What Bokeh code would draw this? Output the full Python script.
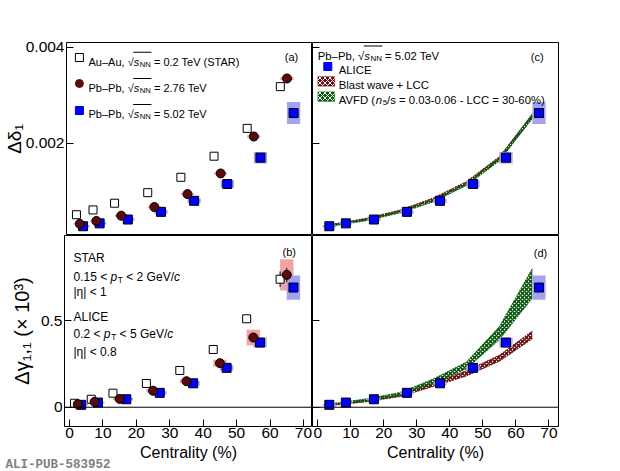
import math
from bokeh.plotting import figure
from bokeh.layouts import column, row
from bokeh.models import (Label, BoxAnnotation, Span, FixedTicker, Range1d, Title,
                          CustomJSTickFormatter)
from bokeh.embed import file_html
from bokeh.resources import INLINE

# centrality (%) of the points, each data set shifted a little as in the figure
cent_star = [1.5, 6.5, 13, 23, 33, 43, 53, 63]
cent_276 = [2.5, 7.5, 15, 25, 35, 45, 55, 65]
cent_502 = [3.5, 8.5, 17, 27, 37, 47, 57, 67]

# delta delta_1
dd_star = [0.00051, 0.00061, 0.00075, 0.00097, 0.00129, 0.00173, 0.00231, 0.00318]
dd_276 = [0.00032, 0.00038, 0.00049, 0.00067, 0.00094, 0.00137, 0.00214, 0.00335]
dd_276_sys = [0.000012, 0.000012, 0.000015, 0.000015, 0.00002, 0.00002, 0.000025, 0.00003]
dd_502 = [0.00027, 0.00033, 0.00041, 0.00057, 0.00080, 0.00115, 0.00170, 0.00263]
dd_502_sys = [0.00002, 0.000025, 0.00003, 0.00004, 0.00005, 0.00008, 0.00012, 0.00023]

# delta gamma_11 (x 10^3)
dg_star = [0.023, 0.046, 0.081, 0.137, 0.212, 0.333, 0.51, 0.738]
dg_star_stat = [0.003, 0.004, 0.005, 0.006, 0.008, 0.01, 0.015, 0.045]
dg_276 = [0.017, 0.031, 0.048, 0.095, 0.15, 0.254, 0.402, 0.763]
dg_276_stat = [0.003, 0.004, 0.005, 0.006, 0.008, 0.01, 0.015, 0.04]
dg_276_sys = [0.004, 0.006, 0.008, 0.01, 0.012, 0.02, 0.045, 0.09]
dg_502 = [0.014, 0.027, 0.046, 0.083, 0.138, 0.227, 0.373, 0.69]
dg_502_sys = [0.004, 0.005, 0.007, 0.009, 0.012, 0.015, 0.028, 0.07]

# model bands
cent_model = [2.5, 7.5, 15, 25, 35, 45, 55, 65]
bw_dd_lo = [0.00026, 0.00032, 0.00040, 0.00057, 0.00082, 0.00115, 0.00166, 0.00252]
bw_dd_hi = [0.00029, 0.00035, 0.00044, 0.00061, 0.00086, 0.00120, 0.00172, 0.00260]
avfd_dd_lo = [0.00025, 0.00031, 0.00039, 0.00055, 0.00078, 0.00112, 0.00163, 0.00252]
avfd_dd_hi = [0.00028, 0.00034, 0.00042, 0.00059, 0.00082, 0.00117, 0.00170, 0.00262]
bw_dg_lo = [0.008, 0.017, 0.032, 0.062, 0.12, 0.18, 0.265, 0.395]
bw_dg_hi = [0.013, 0.023, 0.040, 0.073, 0.143, 0.21, 0.30, 0.44]
avfd_dg_lo = [0.010, 0.020, 0.036, 0.068, 0.137, 0.222, 0.39, 0.63]
avfd_dg_hi = [0.017, 0.029, 0.049, 0.085, 0.163, 0.26, 0.465, 0.80]

x_ticks = [0, 10, 20, 30, 40, 50, 60, 70]
dd_ticks = [0.002, 0.004]
dg_ticks = [0, 0.5]

FONT = "Liberation Sans"
BLUE = "#0000ff"
BLUE_SYS = "#a3a3f2"
RED = "#5a0a0a"
RED_SYS = "#f4a3a3"
BW = "#6b1010"
AVFD = "#0b5a0f"

# Arial / Liberation Sans advance widths (em), for placing text pieces
W = {" ": .278, ".": .278, ",": .278, "–": .556, "-": .333, "=": .584, "<": .584,
     "(": .333, ")": .333, "/": .278, "%": .889, "√": .549,
     "A": .667, "C": .722, "D": .722, "F": .611, "G": .778, "N": .722, "P": .667,
     "R": .722, "S": .667, "T": .611, "V": .667,
     "b": .556, "c": .5, "e": .556, "n": .556, "p": .556, "s": .5, "u": .556}


def width(txt, fs):
    return sum(W.get(ch, .556) for ch in txt) * fs


def label(p, x, y, txt, fs, style="normal", align="left"):
    p.add_layout(Label(x=x, y=y, x_units="screen", y_units="screen", text=txt,
                       text_font=FONT, text_font_size=f"{fs}px", text_font_style=style,
                       text_align=align, text_baseline="alphabetic", text_color="black"))


def rich(p, x, y, parts, size):
    spans = []
    for txt, kind in parts:
        fs = round(size * 0.7, 1) if kind == "sub" else size
        x += (len(txt) - len(txt.lstrip())) * W[" "] * fs
        txt = txt.lstrip()
        dy = -0.28 * size if kind == "sub" else 0
        label(p, x, y + dy, txt, fs, "italic" if kind == "i" else "normal")
        spans.append((x, x + width(txt, fs)))
        x += width(txt, fs) + (0.6 if kind == "i" else 0)
    return spans


def sqrt_s(p, x, y, before, after, size):
    sp = rich(p, x, y, [(before, "n"), ("s", "i"), ("NN", "sub"), (after, "n")], size)
    p.add_layout(BoxAnnotation(left=sp[1][0] - 0.5, right=sp[2][1] + 0.5,
                               bottom=y + 0.8 * size, top=y + 0.8 * size + 0.9,
                               left_units="screen", right_units="screen",
                               bottom_units="screen", top_units="screen",
                               fill_color="black", fill_alpha=1, line_color=None))


def frame_to_data(p, rx, ry, fw, fh):
    xr, yr = p.x_range, p.y_range
    return (xr.start + rx / fw * (xr.end - xr.start),
            yr.start + ry / fh * (yr.end - yr.start))


def panel(xr, yr, w, h, left, right, top, bottom, yticks, xlabels, ylabels):
    p = figure(width=w, height=h, x_range=Range1d(*xr), y_range=Range1d(*yr),
               output_backend="svg", toolbar_location=None,
               min_border_left=left, min_border_right=right,
               min_border_top=top, min_border_bottom=bottom)
    p.xgrid.visible = False
    p.ygrid.visible = False
    p.outline_line_color = "black"
    p.outline_line_alpha = 1
    for ax in (p.xaxis, p.yaxis):
        ax.axis_line_color = None
        ax.major_tick_in = 7
        ax.major_tick_out = 0
        ax.minor_tick_line_color = None
        ax.major_tick_line_color = "black"
        ax.major_label_text_font = FONT
        ax.major_label_text_font_size = "15.5px"
        ax.major_label_text_color = "black"
        ax.axis_label_text_font = FONT
        ax.axis_label_text_font_style = "normal"
        ax.axis_label_text_color = "black"
    p.xaxis.ticker = FixedTicker(ticks=x_ticks)
    p.xaxis.major_label_standoff = 1
    p.yaxis.ticker = FixedTicker(ticks=yticks)
    p.yaxis.major_label_standoff = 2
    if xlabels:
        p.xaxis.axis_label = "Centrality (%)"
        p.xaxis.axis_label_text_font_size = "16px"
        p.xaxis.axis_label_standoff = 3
    else:
        p.xaxis.visible = False
    if not ylabels:
        p.yaxis.formatter = CustomJSTickFormatter(code="return ''")
        p.yaxis.major_label_standoff = 0
    return p


XL = (-1.5, 72.7)
XR = (-1.6, 72.9)
YT = (0.000077, 0.0041)
YB = (-0.111, 0.99)
FWL, FWR, FHT, FHB = 248, 246, 193, 191

pa = panel(XL, YT, 312, 235, 64, 0, 42, 0, dd_ticks, False, True)
pc = panel(XR, YT, 286, 235, 0, 40, 42, 0, dd_ticks, False, False)
pb = panel(XL, YB, 312, 236, 64, 0, 0, 45, dg_ticks, True, True)
pd = panel(XR, YB, 286, 236, 0, 40, 0, 45, dg_ticks, True, False)
pb.yaxis.major_label_overrides = {0: "0", 0.5: "0.5"}

pa.yaxis.axis_label = "Δδ₁"
pa.yaxis.axis_label_text_font_size = "19px"
pa.yaxis.axis_label_standoff = -2
pb.yaxis.axis_label = "Δγ₁,₁ (× 10³)"
pb.yaxis.axis_label_text_font_size = "20px"
pb.yaxis.axis_label_standoff = 5

pb.add_layout(Title(text="ALI-PUB-583952", align="left", offset=-59, standoff=-16,
                    text_font="Liberation Mono", text_font_size="12.5px",
                    text_font_style="bold", text_color="#808080"), "below")

for p in (pb, pd):
    p.add_layout(Span(location=0, dimension="width", line_color="black", line_width=1))


def band(p, lo, hi, color):
    p.varea(x=cent_model, y1=lo, y2=hi, fill_color="white", fill_alpha=0,
            hatch_pattern="diagonal_cross", hatch_color=color, hatch_scale=4,
            hatch_weight=1.7)
    p.line(cent_model, lo, line_color=color, line_dash="2 1", line_width=1)
    p.line(cent_model, hi, line_color=color, line_dash="2 1", line_width=1)


def alice(p, y, sys):
    p.rect(x=cent_502, y=y, width=4, height=[2 * s for s in sys], fill_color=BLUE_SYS,
           line_color=None)
    p.scatter(cent_502, y, marker="square", size=9, fill_color=BLUE, line_color="black")


# (a)
pa.rect(x=cent_276, y=dd_276, width=4, height=[2 * s for s in dd_276_sys],
        fill_color=RED_SYS, line_color=None)
alice(pa, dd_502, dd_502_sys)
pa.scatter(cent_star, dd_star, marker="square", size=8, fill_color="white",
           line_color="black")
pa.scatter(cent_276, dd_276, marker="circle", size=9, fill_color=RED, line_color="black")

# (b)
pb.rect(x=cent_276, y=dg_276, width=4, height=[2 * s for s in dg_276_sys],
        fill_color=RED_SYS, line_color=None)
alice(pb, dg_502, dg_502_sys)
pb.segment(x0=cent_star, y0=[v - e for v, e in zip(dg_star, dg_star_stat)],
           x1=cent_star, y1=[v + e for v, e in zip(dg_star, dg_star_stat)], line_color="black")
pb.scatter(cent_star, dg_star, marker="square", size=8, fill_color="white",
           line_color="black")
pb.segment(x0=cent_276, y0=[v - e for v, e in zip(dg_276, dg_276_stat)],
           x1=cent_276, y1=[v + e for v, e in zip(dg_276, dg_276_stat)], line_color="black")
pb.scatter(cent_276, dg_276, marker="circle", size=9, fill_color=RED, line_color="black")

# (c) and (d)
for p, blo, bhi, alo, ahi in ((pc, bw_dd_lo, bw_dd_hi, avfd_dd_lo, avfd_dd_hi),
                              (pd, bw_dg_lo, bw_dg_hi, avfd_dg_lo, avfd_dg_hi)):
    band(p, blo, bhi, BW)
    band(p, alo, ahi, AVFD)
alice(pc, dd_502, dd_502_sys)
alice(pd, dg_502, dg_502_sys)

# legend of (a)
for ry, mk, fc, lc in ((178, "square", "white", "black"),
                       (152, "circle", RED, RED),
                       (125, "square", BLUE, BLUE)):
    mx, my = frame_to_data(pa, 13, ry, FWL, FHT)
    pa.scatter([mx], [my], marker=mk, size=8, fill_color=fc, line_color=lc)
sqrt_s(pa, 22, 174, "Au–Au, √", " = 0.2 TeV (STAR)", 11)
sqrt_s(pa, 22, 147.7, "Pb–Pb, √", " = 2.76 TeV", 11)
sqrt_s(pa, 22, 121.7, "Pb–Pb, √", " = 5.02 TeV", 11)
label(pa, 225, 178.3, "(a)", 11, align="center")

# legend of (c)
sqrt_s(pc, 5.3, 180, "Pb–Pb, √", " = 5.02 TeV", 11.3)
mx, my = frame_to_data(pc, 15.3, 169, FWR, FHT)
pc.scatter([mx], [my], marker="square", size=8, fill_color=BLUE, line_color=BLUE)
label(pc, 26.3, 165.7, "ALICE", 11.3)
for bot, col in ((149.3, BW), (134, AVFD)):
    pc.add_layout(BoxAnnotation(left=5.3, right=22.3, bottom=bot, top=bot + 9.7,
                                left_units="screen", right_units="screen",
                                bottom_units="screen", top_units="screen",
                                fill_color=col, fill_alpha=1, line_color=col,
                                hatch_pattern="diagonal_cross", hatch_color="white",
                                hatch_scale=5, hatch_weight=1))
label(pc, 26.3, 151, "Blast wave + LCC", 11.3)
rich(pc, 26.3, 135.7, [("AVFD (", "n"), ("n", "i"), ("5", "sub"),
                       ("/s = 0.03-0.06 - LCC = 30-60%)", "n")], 11.3)
label(pc, 224.7, 178.3, "(c)", 11, align="center")

# texts of (b)
label(pb, 9, 168.4, "STAR", 12)
rich(pb, 9, 150, [("0.15 < ", "n"), ("p", "i"), ("T", "sub"), (" < 2 GeV/", "n"),
                  ("c", "i")], 12)
label(pb, 9, 135, "|η| < 1", 12)
label(pb, 9, 110, "ALICE", 12)
rich(pb, 9, 92.4, [("0.2 < ", "n"), ("p", "i"), ("T", "sub"), (" < 5 GeV/", "n"),
                   ("c", "i")], 12)
label(pb, 9, 74.4, "|η| < 0.8", 12)
label(pb, 224.8, 174.3, "(b)", 11, align="center")
label(pd, 228, 173.3, "(d)", 11, align="center")

layout = column(row(pa, pc), row(pb, pd))
open("out.html", "w").write(file_html(layout, INLINE))
